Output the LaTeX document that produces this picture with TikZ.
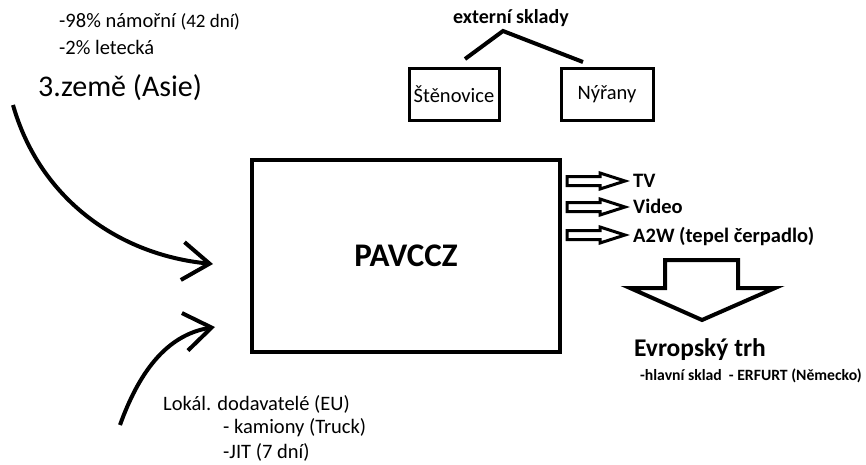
\documentclass[tikz,border=0pt]{standalone}
\usepackage{fontspec}
\setmainfont{Carlito}
\usepackage{tikz}
\usetikzlibrary{arrows.meta}

\begin{document}
\begin{tikzpicture}[x=1pt,y=-1pt,
  txt/.style={inner sep=0pt,font=\fontsize{20.5}{24}\selectfont},
  btxt/.style={inner sep=0pt,font=\fontsize{20.5}{24}\selectfont\bfseries},
  box/.style={draw,line width=3pt},
  flow/.style={line width=4pt,-{Straight Barb[length=27pt,width=38pt]}}]
\useasboundingbox (0,0) rectangle (866,464);
% 3. zeme
\node[txt,anchor=west](sea) at (59,22){-98\% námořní {\fontsize{19}{22}\selectfont(42 dní)}};
\node[txt,anchor=west](air) at (59,47){-2\% letecká};
\node[inner sep=0pt,anchor=west,font=\fontsize{30}{34}\selectfont](asie) at (38,88){3.země (Asie)};
% hlavni sklad
\node[draw,line width=4pt,minimum width=308pt,minimum height=192pt](pav) at (406,256){};
\node[inner sep=0pt,font=\fontsize{33}{36}\selectfont\bfseries] at (pav){PAVCCZ};
\coordinate(a1) at (13,105);
\coordinate(a2) at (120,425);
\draw[flow](a1) .. controls (40,200) and (120,255) .. (213,264);
\draw[flow](a2) .. controls (138,375) and (165,335) .. (215,327);
% lokalni
\node[txt,anchor=west](lok) at (163,404){Lokál. dodavatelé (EU)};
\node[txt,anchor=west](truck) at (223,428){- kamiony (Truck)};
\node[txt,anchor=west](jit) at (223,452){-JIT (7 dní)};
% externi sklady
\node[btxt,font=\fontsize{20}{24}\selectfont\bfseries](ext) at (511,18){externí sklady};
\node[box,minimum width=90pt,minimum height=52pt](sten) at (454,94){};
\node[txt] at (sten){Štěnovice};
\node[box,minimum width=92pt,minimum height=52pt](nyr) at (607,94){};
\node[txt] at (nyr){Nýřany};
\coordinate(ext1) at (503,31);
\draw[line width=4pt](465,59)--(ext1)--(583,62);
% vyrobky
\foreach \y in {181,207,235}
  \draw[line width=3pt,line join=miter](567,\y-4.5)--(600,\y-4.5)--(600,\y-8)--(625,\y)--(600,\y+8)--(600,\y+4.5)--(567,\y+4.5)--cycle;
\node[btxt,anchor=west](tv) at (633,181){TV};
\node[btxt,anchor=west](video) at (633,206){Video};
\node[btxt,anchor=west](a2w) at (633,236){A2W (tepel čerpadlo)};
% evropsky trh
\draw[line width=4pt](665,260)--(738,260)--(738,288)--(775,288)--(702,320)--(630,288)--(665,288)--cycle;
\node[inner sep=0pt,font=\fontsize{25.5}{30}\selectfont\bfseries](eu) at (700,350){Evropský trh};
\node[inner sep=0pt,anchor=east,font=\fontsize{15.7}{19}\selectfont\bfseries](erf) at (862,376){-hlavní sklad\ \ - ERFURT (Německo)};
\end{tikzpicture}
\end{document}
